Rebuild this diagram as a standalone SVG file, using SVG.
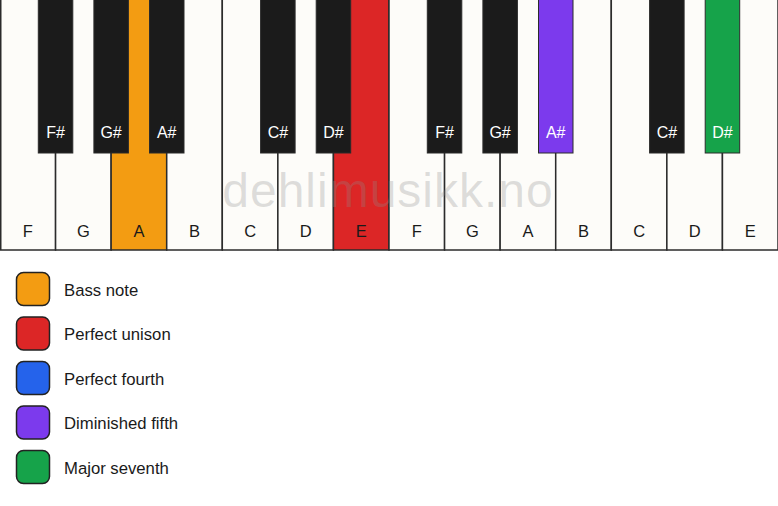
<svg xmlns="http://www.w3.org/2000/svg" width="778" height="506" viewBox="0 0 778 506">
<style>
.w{fill:#fdfcf9;stroke:#2b2b2b;stroke-width:1.5}
.b{fill:#1b1b1b;stroke:#2b2b2b;stroke-width:1}
.wl{font-family:"Liberation Sans",Arial,sans-serif;font-size:16.5px;fill:#1a1a1a;text-anchor:middle}
.bl{font-family:"Liberation Sans",Arial,sans-serif;font-size:16px;fill:#ffffff;text-anchor:middle}
.lg{stroke:#222;stroke-width:1.5}
.lt{font-family:"Liberation Sans",Arial,sans-serif;font-size:16.7px;fill:#1a1a1a}
</style>
<rect width="778" height="506" fill="#ffffff"/>
<g id="white-keys">
<g id="wk-F1"><rect class="w" x="0.75" y="-1" width="54.82" height="251"/><text class="wl" x="27.8" y="237">F</text></g>
<g id="wk-G1"><rect class="w" x="55.57" y="-1" width="55.57" height="251"/><text class="wl" x="83.4" y="237">G</text></g>
<g id="wk-A1"><rect class="w" x="111.14" y="-1" width="55.57" height="251" style="fill:#f39c12"/><text class="wl" x="138.9" y="237">A</text></g>
<g id="wk-B1"><rect class="w" x="166.71" y="-1" width="55.57" height="251"/><text class="wl" x="194.5" y="237">B</text></g>
<g id="wk-C1"><rect class="w" x="222.29" y="-1" width="55.57" height="251"/><text class="wl" x="250.1" y="237">C</text></g>
<g id="wk-D1"><rect class="w" x="277.86" y="-1" width="55.57" height="251"/><text class="wl" x="305.6" y="237">D</text></g>
<g id="wk-E1"><rect class="w" x="333.43" y="-1" width="55.57" height="251" style="fill:#dc2626"/><text class="wl" x="361.2" y="237">E</text></g>
<g id="wk-F2"><rect class="w" x="389" y="-1" width="55.57" height="251"/><text class="wl" x="416.8" y="237">F</text></g>
<g id="wk-G2"><rect class="w" x="444.57" y="-1" width="55.57" height="251"/><text class="wl" x="472.4" y="237">G</text></g>
<g id="wk-A2"><rect class="w" x="500.14" y="-1" width="55.57" height="251"/><text class="wl" x="527.9" y="237">A</text></g>
<g id="wk-B2"><rect class="w" x="555.71" y="-1" width="55.57" height="251"/><text class="wl" x="583.5" y="237">B</text></g>
<g id="wk-C2"><rect class="w" x="611.29" y="-1" width="55.57" height="251"/><text class="wl" x="639.1" y="237">C</text></g>
<g id="wk-D2"><rect class="w" x="666.86" y="-1" width="55.57" height="251"/><text class="wl" x="694.6" y="237">D</text></g>
<g id="wk-E2"><rect class="w" x="722.43" y="-1" width="55.57" height="251"/><text class="wl" x="750.2" y="237">E</text></g>
</g>
<text x="388" y="207" font-family="Liberation Sans,Arial,sans-serif" font-size="48" fill="#8c8c8c" fill-opacity="0.28" text-anchor="middle" letter-spacing="1">dehlimusikk.no</text>
<g id="black-keys">
<g id="bk-Fs1"><rect class="b" x="38.3" y="-1" width="34.5" height="154"/><text class="bl" x="55.6" y="138">F#</text></g>
<g id="bk-Gs1"><rect class="b" x="93.9" y="-1" width="34.5" height="154"/><text class="bl" x="111.1" y="138">G#</text></g>
<g id="bk-As1"><rect class="b" x="149.5" y="-1" width="34.5" height="154"/><text class="bl" x="166.7" y="138">A#</text></g>
<g id="bk-Cs1"><rect class="b" x="260.6" y="-1" width="34.5" height="154"/><text class="bl" x="277.9" y="138">C#</text></g>
<g id="bk-Ds1"><rect class="b" x="316.2" y="-1" width="34.5" height="154"/><text class="bl" x="333.4" y="138">D#</text></g>
<g id="bk-Fs2"><rect class="b" x="427.3" y="-1" width="34.5" height="154"/><text class="bl" x="444.6" y="138">F#</text></g>
<g id="bk-Gs2"><rect class="b" x="482.9" y="-1" width="34.5" height="154"/><text class="bl" x="500.1" y="138">G#</text></g>
<g id="bk-As2"><rect class="b" x="538.5" y="-1" width="34.5" height="154" style="fill:#7c3aed"/><text class="bl" x="555.7" y="138">A#</text></g>
<g id="bk-Cs2"><rect class="b" x="649.6" y="-1" width="34.5" height="154"/><text class="bl" x="666.9" y="138">C#</text></g>
<g id="bk-Ds2"><rect class="b" x="705.2" y="-1" width="34.5" height="154" style="fill:#16a34a"/><text class="bl" x="722.4" y="138">D#</text></g>
</g>
<g id="legend">
<g id="lg-bass"><rect class="lg" x="16.5" y="272.5" width="33" height="33" rx="7" fill="#f39c12"/><text class="lt" x="64" y="295.5">Bass note</text></g>
<g id="lg-unison"><rect class="lg" x="16.5" y="317" width="33" height="33" rx="7" fill="#dc2626"/><text class="lt" x="64" y="340">Perfect unison</text></g>
<g id="lg-fourth"><rect class="lg" x="16.5" y="361.5" width="33" height="33" rx="7" fill="#2563eb"/><text class="lt" x="64" y="384.5">Perfect fourth</text></g>
<g id="lg-dim5"><rect class="lg" x="16.5" y="406" width="33" height="33" rx="7" fill="#7c3aed"/><text class="lt" x="64" y="429">Diminished fifth</text></g>
<g id="lg-maj7"><rect class="lg" x="16.5" y="450.5" width="33" height="33" rx="7" fill="#16a34a"/><text class="lt" x="64" y="473.5">Major seventh</text></g>
</g>
<g id="connectors"></g>
</svg>
